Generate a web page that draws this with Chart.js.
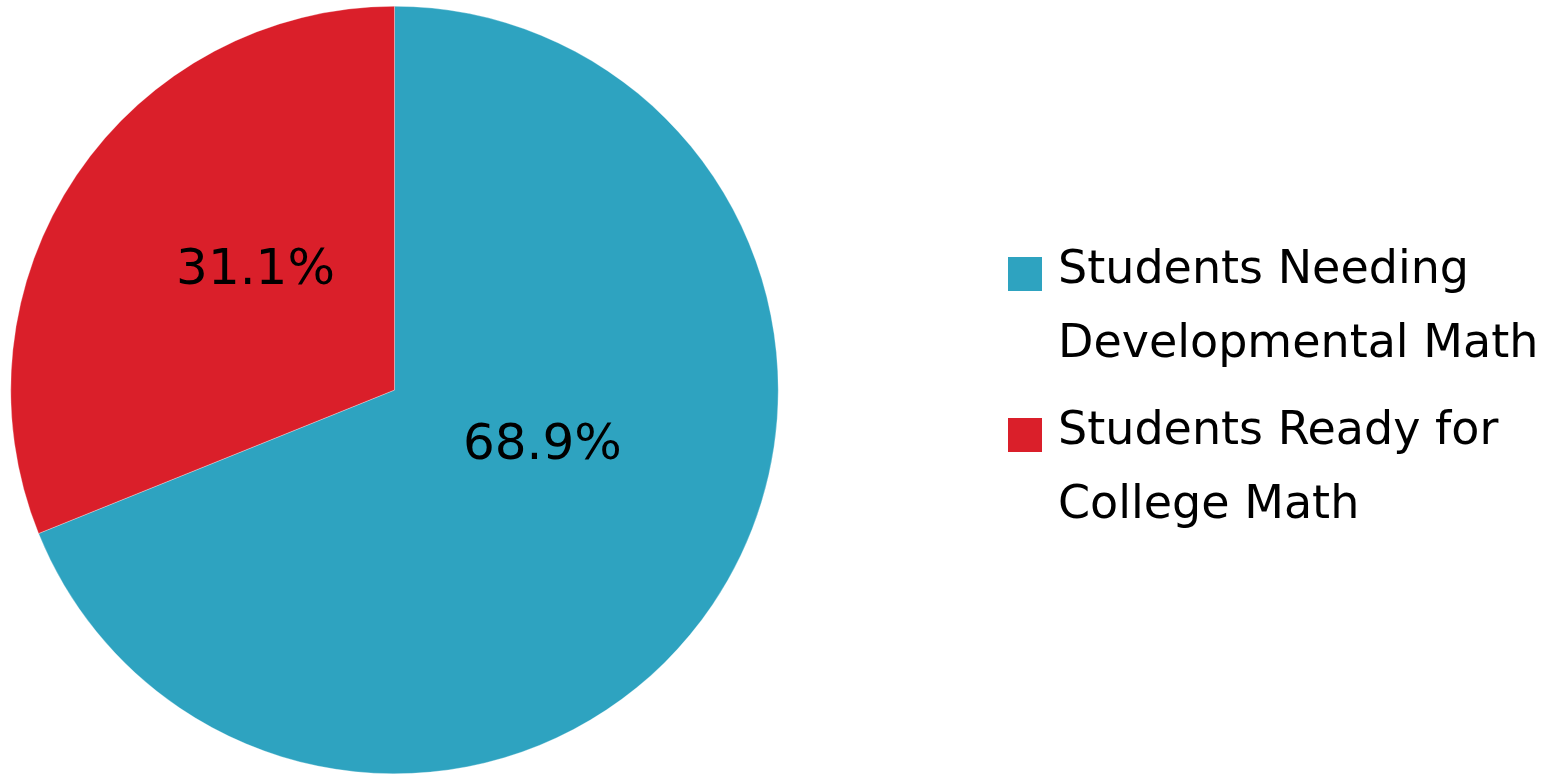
<!DOCTYPE html>
<html>
<head>
<meta charset="utf-8">
<script src="https://cdn.jsdelivr.net/npm/chart.js@4"></script>
<style>
  html, body { margin: 0; padding: 0; background: #fff; }
  #wrap { width: 1554px; height: 774px; }
</style>
</head>
<body>
<div id="wrap"><canvas id="pie-chart" width="1554" height="774"></canvas></div>
<script>
const categories = [
  ["Students Needing", "Developmental Math"],
  ["Students Ready for", "College Math"],
];
const shares = [68.9, 31.1];
const sliceColors = ["#2ea3c0", "#da1f2a"];

const FONT = "'DejaVu Sans', Verdana, sans-serif";

// percent labels on the slices
const sliceLabels = {
  id: "sliceLabels",
  afterDatasetsDraw(chart, args, opts) {
    const ctx = chart.ctx;
    const meta = chart.getDatasetMeta(0);
    ctx.save();
    ctx.fillStyle = "#000";
    ctx.font = "50px " + FONT;
    ctx.textAlign = "center";
    ctx.textBaseline = "middle";
    meta.data.forEach((arc, i) => {
      const p = arc.getProps(["x", "y", "startAngle", "endAngle", "outerRadius"], true);
      const tweak = opts.tweaks[i];
      const a = (p.startAngle + p.endAngle) / 2 + (tweak.angle * Math.PI) / 180;
      const r = p.outerRadius * tweak.radius;
      const v = chart.data.datasets[0].data[i];
      ctx.fillText(v.toFixed(1) + "%", p.x + Math.cos(a) * r, p.y + Math.sin(a) * r + 2);
    });
    ctx.restore();
  },
};

// legend with wrapped labels
const sideLegend = {
  id: "sideLegend",
  afterDraw(chart, args, opts) {
    const ctx = chart.ctx;
    const ds = chart.data.datasets[0];
    let y = opts.top;
    ctx.save();
    ctx.font = "46px " + FONT;
    ctx.textBaseline = "alphabetic";
    ctx.textAlign = "left";
    chart.data.labels.forEach((lines, i) => {
      ctx.fillStyle = ds.backgroundColor[i];
      ctx.fillRect(opts.boxX, y - 26, opts.box, opts.box);
      ctx.fillStyle = "#000";
      lines.forEach((line, j) => {
        ctx.fillText(line, opts.textX, y);
        if (j < lines.length - 1) y += opts.lineHeight;
      });
      y += opts.itemGap;
    });
    ctx.restore();
  },
};

new Chart(document.getElementById("pie-chart").getContext("2d"), {
  type: "pie",
  data: {
    labels: categories,
    datasets: [
      {
        data: shares,
        backgroundColor: sliceColors,
        borderColor: "rgba(255,255,255,0.6)",
        borderWidth: 0.5,
      },
    ],
  },
  options: {
    responsive: false,
    animation: false,
    devicePixelRatio: 1,
    layout: { padding: { top: 6, bottom: 0, left: 10, right: 775 } },
    plugins: {
      legend: { display: false },
      tooltip: { enabled: false },
      sliceLabels: {
        tweaks: [
          { angle: -14, radius: 0.41 },
          { angle: 7, radius: 0.48 },
        ],
      },
      sideLegend: {
        top: 283,
        boxX: 1008,
        box: 34,
        textX: 1058,
        lineHeight: 74,
        itemGap: 87,
      },
    },
  },
  plugins: [sliceLabels, sideLegend],
});
</script>
</body>
</html>
